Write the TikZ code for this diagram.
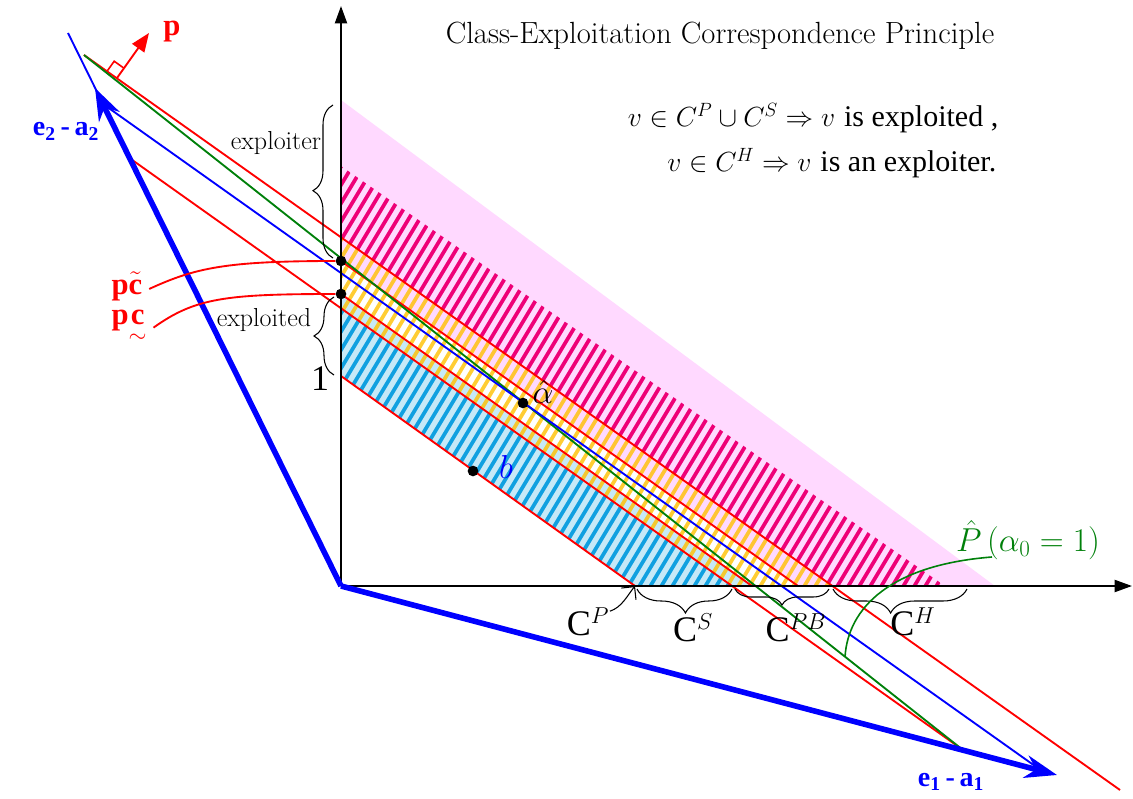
\documentclass[tikz,border=0pt]{standalone}
\usepackage{amsmath,amssymb}
\usepackage{fontspec}
\newfontfamily\tms{Liberation Serif}
\usetikzlibrary{arrows.meta,decorations.pathreplacing}
\definecolor{lnred}{HTML}{FF0000}
\definecolor{lnblue}{HTML}{0000FF}
\definecolor{lngreen}{HTML}{00800A}
\definecolor{pinkbg}{HTML}{FFD9FF}
\definecolor{magstripe}{HTML}{EE0077}
\definecolor{yelstripe}{HTML}{FFC000}
\definecolor{bluebg}{HTML}{C6E9F7}
\definecolor{bluestripe}{HTML}{10A0E0}
\newcommand\stripefill[2]{%
  \begin{scope}
    \clip #2;
    \foreach \k in {0,...,95}
      \draw[#1,line width=2.8pt] ({-30+11*\k},620) -- ++(372,-620);
  \end{scope}}

\begin{document}
\begin{tikzpicture}[x=0.75pt,y=-0.75pt,>=Stealth,
 redline/.style={draw=lnred,line width=1.4pt},
 blueline/.style={draw=lnblue,line width=1.4pt},
 greenline/.style={draw=lngreen,line width=1.4pt},
 axisline/.style={draw=black,line width=1.5pt,-{Triangle[length=13pt,width=9pt]}},
 vecarrow/.style={draw=lnblue,line width=4.2pt,-{Stealth[length=24pt,width=17pt]}},
 curly/.style n args={2}{decorate,decoration={brace,amplitude=#1,aspect=#2},line width=0.8pt},
 dotnode/.style={circle,fill=black,inner sep=0pt,minimum size=8pt},
 veclabel/.style={font=\fontsize{21}{24}\selectfont\tms\bfseries,text=lnblue},
 redlabel/.style={font=\fontsize{23}{26}\selectfont\tms\bfseries,text=lnred},
 wordlabel/.style={font=\fontsize{19.5}{22}\selectfont},
 classlabel/.style={font=\fontsize{27}{30}\selectfont\tms},
 mathlabel/.style={font=\fontsize{26}{30}\selectfont}]
\useasboundingbox (0,0) rectangle (1133,799);
\coordinate (O) at (341,586);
\coordinate (e2) at (95,88);
\coordinate (e1) at (1057,775);
\coordinate (e2far) at (68,33);
\coordinate (gA) at (84,55);
\coordinate (rBend) at (1120,790);
\coordinate (rAstart) at (128,157);
\coordinate (rAend) at (963,750);
\coordinate (bstart) at (103,104);
\coordinate (bend) at (1042,771);
\coordinate (pct) at (341,261);
\coordinate (pcu) at (341,294);
\coordinate (one) at (341,376);
\coordinate (xP) at (635,586);
\coordinate (xD) at (752,586);
\coordinate (xC) at (798,586);
\coordinate (gfoot) at (845,657);
\coordinate (pbase) at (117,78);

\fill[pinkbg] (341,100) -- (995,586) -- (798,586) -- (341,261) -- cycle;
\fill[bluebg] (341,376) -- (635,586) -- (752,586) -- (341,294) -- cycle;
\stripefill{magstripe}{(341,166) -- (945,586) -- (832,586) -- (341,237) -- cycle}
\stripefill{bluestripe}{(341,376) -- (635,586) -- (732,586) -- (341,308) -- cycle}
\stripefill{yelstripe,opacity=0.8}{(341,237) -- (832,586) -- (732,586) -- (341,308) -- cycle}

\draw[redline] (one) -- (xP);
\draw[redline] (rAstart) -- (rAend);
\draw[redline] (pcu) -- (xD);
\draw[redline] (pct) -- (xC);
\draw[redline] (gA) -- (rBend);
\draw[greenline] (gA) -- (rAend);
\draw[blueline] (e2far) -- (O);
\draw[blueline] (bstart) -- (bend);

\draw[axisline] (O) -- (341,6);
\draw[axisline] (O) -- (1132,586);
\draw[vecarrow] (O) -- (e2);
\draw[vecarrow] (O) -- (e1);

\draw[draw=lnred,line width=1.4pt,-{Triangle[length=14pt,width=11pt]}] (pbase) -- ++(32,-45);
\draw[draw=lnred,line width=1.2pt] (pbase) ++(-9.8,-7) -- ++(7,-9.8) -- ++(9.8,7);
\node[redlabel] (plbl) at (172,32) {p};
\node[veclabel,anchor=base] (e2lbl) at (66,136) {e\textsubscript{2}\,-\,a\textsubscript{2}};
\node[veclabel,anchor=base] (e1lbl) at (951,786) {e\textsubscript{1}\,-\,a\textsubscript{1}};

\node[dotnode] (dpct) at (pct) {};
\node[dotnode] (dpcu) at (pcu) {};
\node[dotnode] (dahat) at (523,403) {};
\node[dotnode] (db) at (473,471) {};
\node[redlabel,anchor=base west,inner sep=1pt] (pctl) at (110,294) {p$\tilde{\text{c}}$};
\node[redlabel,anchor=base west,inner sep=1pt] (pcul) at (110,324) {p$\mathord{\underset{\sim}{\text{c}}}$};
\draw[redline] ([xshift=4pt,yshift=-2pt]pctl.east) .. controls (195,268) and (225,261) .. (dpct);
\draw[redline] ([xshift=4pt]pcul.east) .. controls (195,298) and (225,294) .. (dpcu);

\draw[curly={15pt}{0.44}] (333,258) -- (333,105);
\draw[curly={15pt}{0.5}] (334,375) -- (334,297);
\node[wordlabel] (explr) at (276,143) {exploiter};
\node[wordlabel] (expld) at (264,320) {exploited};
\node[classlabel] (onelbl) at (320,379) {1};

\draw[curly={18pt}{0.49}] (732,589) -- (637,589);
\draw[curly={12pt}{0.5}] (829,589) -- (735,589);
\draw[curly={18pt}{0.57}] (967,589) -- (833,589);
\node[classlabel] (cP) at (588,622) {C$^{P}$};
\node[classlabel] (cS) at (693,628) {C$^{S}$};
\node[classlabel] (cPB) at (796,628) {C$^{PB}$};
\node[classlabel] (cH) at (913,622) {C$^{H}$};
\draw[line width=0.8pt,-{Straight Barb[length=7pt]}] ([xshift=-3pt,yshift=-6pt]cP.north east) .. controls +(12,-4) and +(-8,10) .. (xP);

\node[mathlabel] (ahat) at (543,392) {$\hat{\alpha}$};
\node[mathlabel,text=lnblue] (blbl) at (506,467) {$b$};
\node[mathlabel,font=\fontsize{25}{30}\selectfont,text=lngreen] (phat) at (1028,540) {$\hat{P}\left(\alpha_{0}=1\right)$};
\draw[greenline,line width=1.2pt] (gfoot) .. controls (848,608) and (890,565) .. (992,557);

\node[font=\fontsize{23}{27}\selectfont] (title) at (720,36) {Class-Exploitation Correspondence Principle};
\node[anchor=east,font=\fontsize{22.5}{27}\selectfont] (rule1) at (1003,118) {$v\in C^{P}\cup C^{S}\Rightarrow v$ {\tms is exploited ,}};
\node[anchor=east,font=\fontsize{22.5}{27}\selectfont] (rule2) at (1001,163) {$v\in C^{H}\Rightarrow v$ {\tms is an exploiter.}};
\end{tikzpicture}
\end{document}
